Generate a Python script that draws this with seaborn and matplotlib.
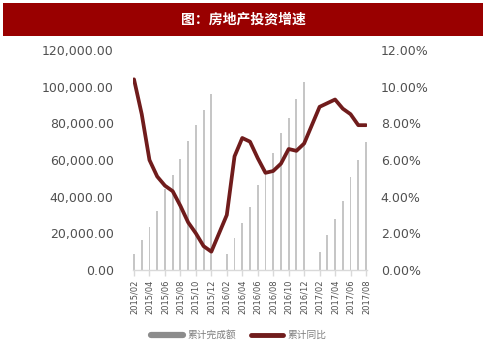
import matplotlib
matplotlib.use("Agg")
import matplotlib.pyplot as plt
import seaborn as sns
import pandas as pd
from matplotlib.lines import Line2D
from matplotlib.patches import Rectangle
from matplotlib.ticker import FuncFormatter, FixedLocator

# ---- data ----
months = ["2015/02", "2015/03", "2015/04", "2015/05", "2015/06", "2015/07", "2015/08",
          "2015/09", "2015/10", "2015/11", "2015/12",
          "2016/02", "2016/03", "2016/04", "2016/05", "2016/06", "2016/07", "2016/08",
          "2016/09", "2016/10", "2016/11", "2016/12",
          "2017/02", "2017/03", "2017/04", "2017/05", "2017/06", "2017/07", "2017/08"]
amount = [8786, 16214, 23669, 32315, 43955, 51800, 60443, 70426, 78990, 87248, 95979,
          8952, 17677, 25579, 34357, 46631, 55351, 63872, 74598, 83117, 93387, 102581,
          9854, 19292, 27732, 37890, 50610, 59761, 69694]
growth = [10.4, 8.5, 6.0, 5.1, 4.6, 4.3, 3.5, 2.6, 2.0, 1.3, 1.0,
          3.0, 6.2, 7.2, 7.0, 6.1, 5.3, 5.4, 5.8, 6.6, 6.5, 6.9,
          8.9, 9.1, 9.3, 8.8, 8.5, 7.9, 7.9]
tick_labels = ["2015/02", "2015/04", "2015/06", "2015/08", "2015/10", "2015/12",
               "2016/02", "2016/04", "2016/06", "2016/08", "2016/10", "2016/12",
               "2017/02", "2017/04", "2017/06", "2017/08"]
left_ticks = [0, 20000, 40000, 60000, 80000, 100000, 120000]
right_ticks = [0, 2, 4, 6, 8, 10, 12]
title = "图：房地产投资增速"
legend_labels = ["累计完成额", "累计同比"]


def month_pos(s):
    y, m = s.split("/")
    return (int(y) - 2015) * 12 + int(m) - 2


sns.set_theme(style="white")
plt.rcParams['font.family'] = ['DejaVu Sans', 'Noto Sans CJK SC']

W, H = 487, 360
fig = plt.figure(figsize=(W / 100, H / 100), dpi=100)

n_slots = month_pos(months[-1])  # 30 intervals on a date axis
x0, x1 = -0.12, n_slots + 0.12
step = (366 - 134) / n_slots
left_px = 134 + x0 * step
right_px = 366 + (x1 - n_slots) * step
ax = fig.add_axes([left_px / W, 90 / H, (right_px - left_px) / W, 220 / H])

df = pd.DataFrame({"month": months, "amount": amount, "growth": growth})
df["pos"] = df["month"].map(month_pos)

BAR = "#c6c6c6"
LINE = "#701c1c"
TXT = "#505050"

sns.barplot(data=df, x="pos", y="amount", color=BAR, width=0.24, saturation=1,
            native_scale=True, ax=ax, zorder=1, linewidth=0)
ax2 = ax.twinx()
sns.lineplot(data=df, x="pos", y="growth", color=LINE, linewidth=2.7, ax=ax2)

ax.set_xlim(x0, x1)
ax2.set_xlim(x0, x1)
ax.set_ylim(0, 120000)
ax2.set_ylim(0, 12)

ax.xaxis.set_major_locator(FixedLocator([month_pos(t) for t in tick_labels]))
ax.set_xticklabels(tick_labels, rotation=90, fontsize=6, color=TXT)
ax.tick_params(axis="x", bottom=True, length=4, width=1, color="#d9d9d9", pad=3)
ax2.tick_params(axis="x", bottom=False, top=False, labelbottom=False)

ax.set_yticks(left_ticks)
ax.yaxis.set_major_formatter(FuncFormatter(lambda v, p: f"{v:,.2f}"))
ax.tick_params(axis="y", length=0, pad=14, labelsize=9, labelcolor=TXT)
ax2.set_yticks(right_ticks)
ax2.yaxis.set_major_formatter(FuncFormatter(lambda v, p: f"{v:.2f}%"))
ax2.tick_params(axis="y", length=0, pad=10, labelsize=9, labelcolor=TXT)

for a in (ax, ax2):
    a.set_xlabel("")
    a.set_ylabel("")
    a.grid(False)
    for s in a.spines.values():
        s.set_visible(False)
ax.spines["bottom"].set_visible(True)
ax.spines["bottom"].set_color("#d9d9d9")
ax.spines["bottom"].set_linewidth(1)
ax.patch.set_alpha(0)
ax2.patch.set_alpha(0)

# title band
fig.patches.append(Rectangle((3 / W, 1 - 36 / H), 480 / W, 33 / H,
                             transform=fig.transFigure, facecolor="#990000",
                             edgecolor="none"))
fig.text(0.5, 1 - 19.5 / H, title, color="white", fontsize=10, fontweight="bold",
         family=["Noto Sans CJK SC", "DejaVu Sans"], ha="center", va="center")

handles = [Line2D([], [], color="#8c8c8c", lw=4.5),
           Line2D([], [], color=LINE, lw=3.5)]
fig.legend(handles, legend_labels, loc="center", bbox_to_anchor=(0.49, 1 - 335 / H),
           ncol=2, frameon=False, prop={"family": ["Noto Sans CJK SC"], "size": 7},
           labelcolor="#7f7f7f", handlelength=3.3, columnspacing=1.5,
           handletextpad=0.5)

fig.savefig("out.png", dpi=100)
